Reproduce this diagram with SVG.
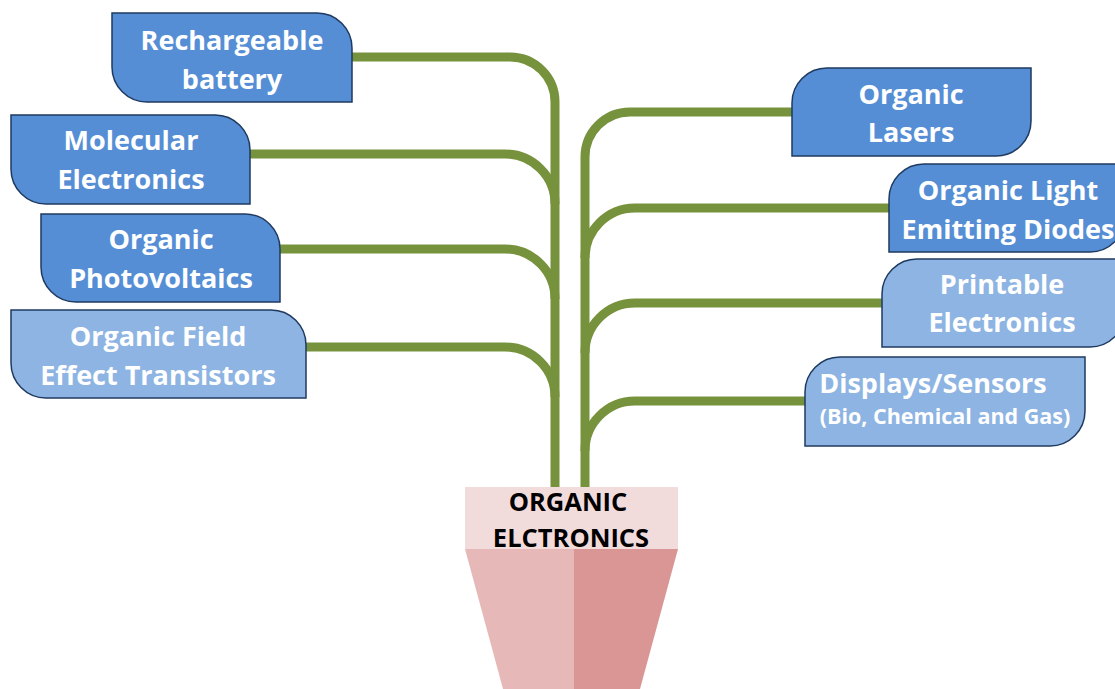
<svg xmlns="http://www.w3.org/2000/svg" width="1115" height="689" viewBox="0 0 1115 689">
<style>
.dark{fill:#558ED5;stroke:#1F3A60;stroke-width:1.5}
.light{fill:#8DB4E2;stroke:#1F3A60;stroke-width:1.5}
.t{font-family:"Open Sans",Lato,sans-serif;font-weight:bold;font-size:27px;fill:#fff;text-anchor:middle}
.conn path{fill:none;stroke:#76923C;stroke-width:9}
.pt{font-family:"Open Sans",Lato,sans-serif;font-weight:bold;font-size:25.5px;fill:#000;text-anchor:middle}
</style>
<rect width="1115" height="689" fill="#fff"/>
<g class="conn" id="connectors">
<path d="M352,57 H510 A45,45 0 0 1 555,102 V487"/>
<path d="M250,154 H505 A50,50 0 0 1 555,204"/>
<path d="M280,249 H505 A50,50 0 0 1 555,299"/>
<path d="M306,347 H505 A50,50 0 0 1 555,397"/>
<path d="M792,112 H630 A45,45 0 0 0 585,157 V487"/>
<path d="M889,208 H635 A50,50 0 0 0 585,258"/>
<path d="M882,303 H635 A50,50 0 0 0 585,353"/>
<path d="M805,401 H635 A50,50 0 0 0 585,451"/>
</g>
<g id="n1">
<path class="dark" d="M112,13 H317 A35,35 0 0 1 352,48 V102 H147 A35,35 0 0 1 112,67 Z"/>
<text class="t" x="232" y="50">Rechargeable</text>
<text class="t" x="232" y="89">battery</text>
</g>
<g id="n2">
<path class="dark" d="M11,115 H215 A35,35 0 0 1 250,150 V204 H46 A35,35 0 0 1 11,169 Z"/>
<text class="t" x="131" y="150">Molecular</text>
<text class="t" x="131" y="189">Electronics</text>
</g>
<g id="n3">
<path class="dark" d="M41,214 H245 A35,35 0 0 1 280,249 V302 H76 A35,35 0 0 1 41,267 Z"/>
<text class="t" x="161" y="249">Organic</text>
<text class="t" x="161" y="288">Photovoltaics</text>
</g>
<g id="n4">
<path class="light" d="M11,310 H271 A35,35 0 0 1 306,345 V398 H46 A35,35 0 0 1 11,363 Z"/>
<text class="t" x="158" y="346">Organic Field</text>
<text class="t" x="158" y="385">Effect Transistors</text>
</g>
<g id="n5">
<path class="dark" d="M827,68 H1031 V121 A35,35 0 0 1 996,156 H792 V103 A35,35 0 0 1 827,68 Z"/>
<text class="t" x="911" y="104">Organic</text>
<text class="t" x="911" y="142">Lasers</text>
</g>
<g id="n6">
<path class="dark" d="M924,164 H1125 V217 A35,35 0 0 1 1090,252 H889 V199 A35,35 0 0 1 924,164 Z"/>
<text class="t" x="1008" y="200">Organic Light</text>
<text class="t" x="1008" y="239">Emitting Diodes</text>
</g>
<g id="n7">
<path class="light" d="M917,259 H1125 V312 A35,35 0 0 1 1090,347 H882 V294 A35,35 0 0 1 917,259 Z"/>
<text class="t" x="1002" y="294">Printable</text>
<text class="t" x="1002" y="332">Electronics</text>
</g>
<g id="n8">
<path class="light" d="M840,357 H1085 V411 A35,35 0 0 1 1050,446 H805 V392 A35,35 0 0 1 840,357 Z"/>
<text class="t" x="933" y="393">Displays/Sensors</text>
<text class="t" x="945" y="424" style="font-size:21.5px">(Bio, Chemical and Gas)</text>
</g>
<g id="pot">
<rect x="465" y="487" width="213" height="62" fill="#F2DCDB"/>
<path d="M465,549 H574 V689 H503 Z" fill="#E6B9B8"/>
<path d="M574,549 H678 L640,689 H574 Z" fill="#D99694"/>
<text class="pt" x="568" y="511">ORGANIC</text>
<text class="pt" x="571" y="547">ELCTRONICS</text>
</g>
</svg>
